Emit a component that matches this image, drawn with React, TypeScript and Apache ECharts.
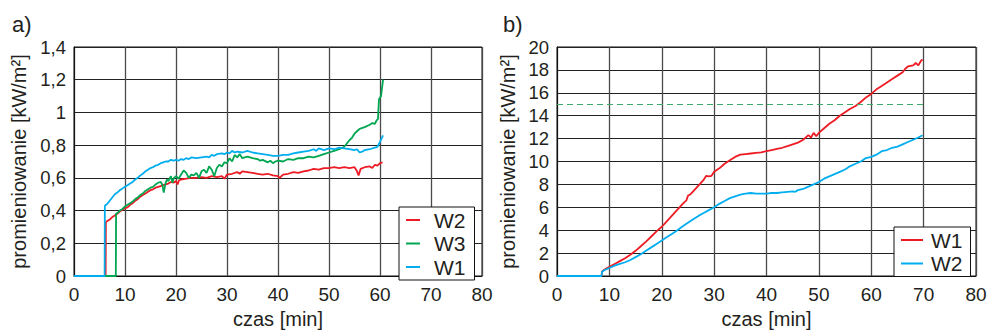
import React, { useEffect, useRef } from "react";
import * as echarts from "echarts";

// ---------- data ----------
const xTicksMax = 80;
const xTickStep = 10;

// Panel a)
const aYMax = 1.4;
const aYStep = 0.2;
const aW2: [number, number][] = [[0,0],[6.2,0],[6.25,0.33],[7,0.345],[7.5,0.36],[8,0.37],[8.5,0.38],[9,0.395],[9.5,0.405],[10,0.415],[10.5,0.42],[11,0.435],[11.5,0.445],[12,0.46],[12.5,0.47],[13,0.485],[13.5,0.495],[14,0.505],[14.5,0.515],[15,0.525],[15.5,0.53],[16,0.54],[16.5,0.545],[17,0.55],[17.5,0.555],[18,0.56],[18.5,0.565],[19,0.575],[19.5,0.57],[20,0.58],[20.3,0.56],[20.6,0.585],[21,0.59],[22,0.595],[23,0.6],[24,0.6],[25,0.605],[26,0.6],[27,0.61],[28,0.605],[29,0.61],[29.5,0.595],[30,0.62],[31,0.625],[32,0.635],[32.5,0.625],[33,0.64],[34,0.635],[35,0.63],[36,0.625],[37,0.62],[38,0.625],[39,0.615],[40,0.61],[40.3,0.6],[41,0.62],[42,0.625],[43,0.635],[44,0.63],[45,0.64],[46,0.645],[47,0.655],[48,0.65],[49,0.66],[50,0.66],[51,0.665],[52,0.66],[53,0.665],[54,0.66],[55,0.665],[55.5,0.64],[55.8,0.615],[56.2,0.655],[57,0.665],[58,0.67],[58.5,0.66],[59,0.68],[59.5,0.675],[60,0.69],[60.5,0.695]];
const aW3: [number, number][] = [[0,0],[8.2,0],[8.25,0.38],[8.5,0.385],[9,0.4],[9.5,0.41],[10,0.425],[10.5,0.435],[11,0.445],[11.5,0.455],[12,0.47],[12.5,0.48],[13,0.495],[13.5,0.505],[14,0.52],[14.5,0.53],[15,0.54],[15.5,0.545],[16,0.56],[16.5,0.57],[17,0.575],[17.3,0.56],[17.6,0.51],[17.9,0.56],[18.2,0.59],[18.5,0.58],[19,0.61],[19.3,0.57],[19.6,0.6],[20,0.61],[20.5,0.595],[21,0.62],[21.5,0.645],[22,0.63],[22.5,0.6],[23,0.62],[23.5,0.615],[24,0.63],[24.5,0.6],[25,0.64],[25.5,0.65],[26,0.63],[26.5,0.67],[27,0.65],[27.5,0.61],[28,0.66],[28.5,0.68],[29,0.67],[29.5,0.695],[30,0.69],[30.5,0.72],[31,0.7],[31.5,0.74],[32,0.725],[32.5,0.745],[33,0.72],[34,0.73],[35,0.72],[36,0.715],[36.5,0.705],[37,0.71],[38,0.695],[38.5,0.705],[39,0.69],[39.5,0.7],[40,0.705],[41,0.7],[42,0.715],[43,0.71],[44,0.72],[45,0.72],[46,0.73],[47,0.725],[48,0.735],[49,0.745],[50,0.755],[51,0.765],[52,0.775],[53,0.79],[54,0.83],[54.5,0.845],[55,0.87],[55.5,0.885],[56,0.9],[57,0.91],[58,0.925],[58.5,0.935],[59,0.93],[59.3,0.95],[59.6,0.96],[59.8,1.08],[60,1.09],[60.2,1.1],[60.4,1.15],[60.6,1.2]];
const aW1: [number, number][] = [[0,0],[6,0],[6.05,0.43],[6.5,0.44],[7,0.46],[7.5,0.48],[8,0.5],[8.5,0.51],[9,0.525],[9.5,0.535],[10,0.545],[10.5,0.555],[11,0.565],[11.5,0.575],[12,0.59],[12.5,0.6],[13,0.615],[13.5,0.625],[14,0.64],[14.5,0.65],[15,0.66],[15.5,0.665],[16,0.675],[16.5,0.68],[17,0.69],[17.5,0.695],[18,0.7],[18.5,0.7],[19,0.71],[19.5,0.705],[20,0.71],[20.5,0.705],[21,0.715],[21.5,0.71],[22,0.72],[22.5,0.715],[23,0.725],[24,0.72],[25,0.725],[26,0.73],[26.5,0.725],[27,0.74],[27.5,0.735],[28,0.745],[29,0.75],[29.5,0.745],[30,0.755],[30.5,0.75],[31,0.765],[31.5,0.755],[32,0.76],[33,0.755],[34,0.765],[35,0.755],[36,0.75],[37,0.745],[38,0.74],[39,0.735],[40,0.735],[41,0.74],[42,0.74],[43,0.75],[44,0.755],[45,0.76],[46,0.765],[47,0.775],[47.5,0.765],[48,0.78],[49,0.77],[50,0.78],[51,0.775],[52,0.785],[53,0.78],[54,0.775],[55,0.77],[55.5,0.775],[56,0.755],[56.5,0.76],[57,0.77],[58,0.775],[59,0.785],[59.5,0.79],[60,0.82],[60.3,0.84],[60.6,0.86]];

// Panel b)
const bYMax = 20;
const bYStep = 2;
const bLimit = 15;
const bLimitEnd = 70;
const bW1: [number, number][] = [[0,0],[8.5,0],[8.6,0.4],[9,0.55],[10,0.8],[11,1.05],[12,1.3],[13,1.55],[14,1.85],[15,2.2],[16,2.6],[17,3.0],[18,3.45],[19,3.9],[20,4.3],[21,4.8],[22,5.3],[23,5.8],[24,6.3],[24.7,6.6],[25,7.0],[25.5,7.15],[26,7.4],[27,7.9],[28,8.4],[28.5,8.75],[29,8.7],[29.5,8.75],[30,9.1],[31,9.4],[32,9.8],[33,10.1],[34,10.4],[35,10.6],[36,10.65],[37,10.7],[38,10.75],[39,10.8],[40,10.9],[41,11.0],[42,11.1],[43,11.2],[44,11.35],[45,11.5],[46,11.65],[47,11.9],[48,12.3],[48.5,12.1],[49,12.5],[49.5,12.2],[50,12.5],[51,12.9],[52,13.3],[53,13.6],[54,14.0],[55,14.3],[56,14.6],[57,14.85],[58,15.2],[59,15.6],[60,15.9],[61,16.3],[62,16.6],[63,16.9],[64,17.2],[65,17.5],[66,17.8],[66.5,18.1],[67,18.3],[68,18.4],[68.5,18.6],[69,18.4],[69.5,18.8],[69.8,18.9]];
const bW2: [number, number][] = [[0,0],[8.5,0],[8.6,0.35],[9,0.5],[10,0.7],[11,0.9],[12,1.05],[13,1.2],[14,1.4],[15,1.65],[16,1.9],[17,2.2],[18,2.5],[19,2.8],[20,3.1],[21,3.4],[22,3.7],[23,4.0],[24,4.35],[25,4.65],[26,4.95],[27,5.25],[28,5.5],[29,5.75],[30,6.0],[31,6.3],[32,6.55],[33,6.8],[34,6.95],[35,7.1],[36,7.2],[37,7.25],[38,7.2],[39,7.2],[40,7.2],[41,7.25],[42,7.25],[43,7.3],[44,7.35],[45,7.4],[45.5,7.35],[46,7.5],[47,7.6],[48,7.8],[49,8.0],[50,8.2],[51,8.5],[52,8.7],[53,8.9],[54,9.1],[55,9.3],[56,9.6],[57,9.8],[58,10.0],[59,10.3],[60,10.4],[61,10.6],[62,10.9],[63,11.0],[64,11.2],[65,11.3],[66,11.5],[67,11.7],[68,11.9],[69,12.1],[69.8,12.3]];

// ---------- styling ----------
const FONT = "Liberation Sans, Arial, sans-serif";
const TXT = "#231f20";
const RED = "#ed1c24";
const GREEN = "#00a651";
const BLUE = "#00aeef";

function baseOption(opts: {
  panel: string;
  panelLeft: number;
  gridLeft: number;
  gridRight: number;
  yMax: number;
  yStep: number;
  yNameGap: number;
  legendLeft: number;
  legendTop: number;
  legendData: string[];
  legendItemWidth: number;
  legendTextPadLeft: number;
  legendPadRight: number;
  series: any[];
}) {
  return {
    animation: false,
    textStyle: { fontFamily: FONT, color: TXT },
    title: {
      text: opts.panel,
      left: opts.panelLeft,
      top: 13,
      textStyle: { fontFamily: FONT, fontWeight: "normal", fontSize: 22, color: TXT },
      padding: 0,
    },
    grid: {
      left: opts.gridLeft,
      right: opts.gridRight,
      top: 47,
      bottom: 55,
      show: true,
      borderColor: "#111",
      borderWidth: 1,
      backgroundColor: "transparent",
      containLabel: false,
      outerBoundsMode: "none",
    },
    legend: {
      data: opts.legendData,
      orient: "vertical",
      left: opts.legendLeft,
      top: opts.legendTop,
      backgroundColor: "#fff",
      borderColor: "#111",
      borderWidth: 1,
      borderRadius: 0,
      padding: [2.5, opts.legendPadRight, 2.5, 7],
      itemGap: 2.5,
      icon: "rect",
      itemWidth: opts.legendItemWidth,
      itemHeight: 2,
      textStyle: {
        fontFamily: FONT,
        fontSize: 21,
        color: TXT,
        lineHeight: 19,
        padding: [0, 0, 0, opts.legendTextPadLeft],
      },
    },
    xAxis: {
      type: "value",
      min: 0,
      max: xTicksMax,
      interval: xTickStep,
      name: "czas [min]",
      nameLocation: "middle",
      nameGap: 32,
      nameTextStyle: { fontFamily: FONT, fontSize: 20, color: TXT },
      axisLine: { show: true, lineStyle: { color: "#111", width: 1 } },
      axisTick: { show: false },
      axisLabel: { fontFamily: FONT, fontSize: 19, color: TXT, margin: 9 },
      splitLine: { show: true, lineStyle: { color: "#4a4a4a", width: 1.3 } },
    },
    yAxis: {
      type: "value",
      min: 0,
      max: opts.yMax,
      interval: opts.yStep,
      name: "promieniowanie [kW/m²]",
      nameLocation: "middle",
      nameGap: opts.yNameGap,
      nameTextStyle: { fontFamily: FONT, fontSize: 20, color: TXT },
      axisLine: { show: true, lineStyle: { color: "#111", width: 1 } },
      axisTick: { show: false },
      axisLabel: {
        fontFamily: FONT,
        fontSize: 18.5,
        color: TXT,
        margin: 8,
        formatter: (v: number) => String(Math.round(v * 100) / 100).replace(".", ","),
      },
      splitLine: { show: true, lineStyle: { color: "#222", width: 1 } },
    },
    series: opts.series,
  };
}

function lineSeries(name: string, data: [number, number][], color: string, extra: any = {}) {
  return {
    name,
    type: "line",
    data,
    symbol: "none",
    showSymbol: false,
    lineStyle: { color, width: 1.8 },
    itemStyle: { color },
    z: 3,
    ...extra,
  };
}

function Panel({ left, width, option }: { left: number; width: number; option: any }) {
  const ref = useRef<HTMLDivElement>(null);
  useEffect(() => {
    if (!ref.current) return;
    const chart = echarts.init(ref.current, undefined, { renderer: "svg" });
    chart.setOption(option);
    return () => chart.dispose();
  }, []);
  return (
    <div
      ref={ref}
      style={{ position: "absolute", left, top: 0, width, height: 331, background: "#fff" }}
    />
  );
}

export default function App() {
  const optA = baseOption({
    panel: "a)",
    panelLeft: 12,
    gridLeft: 74,
    gridRight: 494 - 482,
    yMax: aYMax,
    yStep: aYStep,
    yNameGap: 28,
    legendLeft: 399,
    legendTop: 207,
    legendData: ["W2", "W3", "W1"],
    legendItemWidth: 14,
    legendTextPadLeft: 9,
    legendPadRight: 9,
    series: [
      lineSeries("W2", aW2, RED),
      lineSeries("W3", aW3, GREEN),
      lineSeries("W1", aW1, BLUE),
    ],
  });
  const optB = baseOption({
    panel: "b)",
    panelLeft: 503 - 494,
    gridLeft: 557 - 494,
    gridRight: 495 - (976 - 494),
    yMax: bYMax,
    yStep: bYStep,
    yNameGap: 24,
    legendLeft: 894 - 494,
    legendTop: 227,
    legendData: ["W1", "W2"],
    legendItemWidth: 22,
    legendTextPadLeft: 3,
    legendPadRight: 8,
    series: [
      lineSeries("W1", bW1, RED, {
        markLine: {
          silent: true,
          symbol: "none",
          label: { show: false },
          lineStyle: { color: "#3daa6e", type: [6, 4], width: 1 },
          data: [[{ coord: [0, bLimit] }, { coord: [bLimitEnd, bLimit] }]],
        },
      }),
      lineSeries("W2", bW2, BLUE),
    ],
  });
  return (
    <div style={{ position: "fixed", left: 0, top: 0, width: 989, height: 331, background: "#fff" }}>
      <Panel left={0} width={494} option={optA} />
      <Panel left={494} width={495} option={optB} />
    </div>
  );
}
